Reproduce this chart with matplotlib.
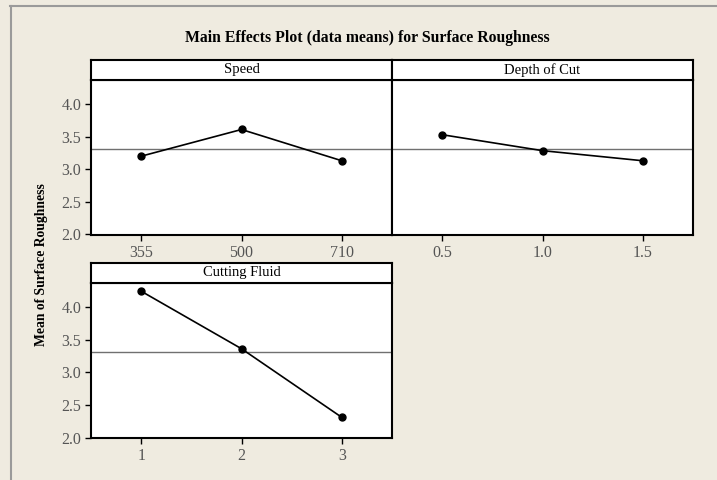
import matplotlib.pyplot as plt
from matplotlib.lines import Line2D

# main effects data (means)
speed_levels = ["355", "500", "710"]
speed_means = [3.20, 3.61, 3.13]

depth_levels = ["0.5", "1.0", "1.5"]
depth_means = [3.53, 3.285, 3.13]

fluid_levels = ["1", "2", "3"]
fluid_means = [4.24, 3.36, 2.31]

grand_mean = 3.305
y_ticks = [2.0, 2.5, 3.0, 3.5, 4.0]

bg = "#efebe0"
serif = ["Liberation Serif", "DejaVu Serif"]

fig = plt.figure(figsize=(7.17, 4.8), dpi=100, facecolor=bg)

# outer frame lines (top and left)
fig.add_artist(Line2D([10 / 717, 1], [1 - 6 / 480, 1 - 6 / 480], color="#9a9a9a", lw=1.5))
fig.add_artist(Line2D([11 / 717, 11 / 717], [0, 1 - 6 / 480], color="#9a9a9a", lw=1.5))

fig.text(0.512, 1 - 38 / 480, "Main Effects Plot (data means) for Surface Roughness",
         ha="center", va="center", fontsize=11.3, fontweight="bold", family=serif)
fig.text(42 / 717, 1 - 265 / 480, "Mean of Surface Roughness", rotation=90,
         ha="center", va="center", fontsize=9.8, fontweight="bold", family=serif)

W = 301 / 717
H_head = 20 / 480


def panel(left, bottom, top, name, levels, means, show_y):
    ax = fig.add_axes([left, bottom, W, top - bottom])
    ax.set_facecolor("white")
    ax.axhline(grand_mean, color="#707070", lw=1.0, zorder=1)
    x = list(range(1, len(levels) + 1))
    ax.plot(x, means, color="black", lw=1.2, marker="o", ms=5, zorder=3)
    ax.set_xlim(0.5, 3.5)
    ax.set_ylim(1.99, 4.37)
    ax.set_xticks(x)
    ax.set_xticklabels(levels)
    ax.set_yticks(y_ticks)
    ax.set_yticklabels(["%.1f" % v for v in y_ticks])
    ax.tick_params(direction="out", length=4, width=1, color="black",
                   labelcolor="#555555", labelsize=11.5, pad=3)
    if not show_y:
        ax.tick_params(axis="y", left=False, labelleft=False)
    for lab in ax.get_xticklabels() + ax.get_yticklabels():
        lab.set_family(serif)
    for s in ax.spines.values():
        s.set_linewidth(1.5)
        s.set_color("black")

    hd = fig.add_axes([left, top, W, H_head])
    hd.set_facecolor("white")
    hd.set_xticks([])
    hd.set_yticks([])
    for s in hd.spines.values():
        s.set_linewidth(1.5)
        s.set_color("black")
    hd.text(0.5, 0.5, name, ha="center", va="center", fontsize=10.5,
            family=serif, transform=hd.transAxes)
    return ax


panel(91 / 717, 1 - 235 / 480, 1 - 80 / 480, "Speed", speed_levels, speed_means, True)
panel(392 / 717, 1 - 235 / 480, 1 - 80 / 480, "Depth of Cut", depth_levels, depth_means, False)
panel(91 / 717, 1 - 438.3 / 480, 1 - 282.7 / 480, "Cutting Fluid", fluid_levels, fluid_means, True)

fig.savefig("out.png", dpi=100, facecolor=bg)
